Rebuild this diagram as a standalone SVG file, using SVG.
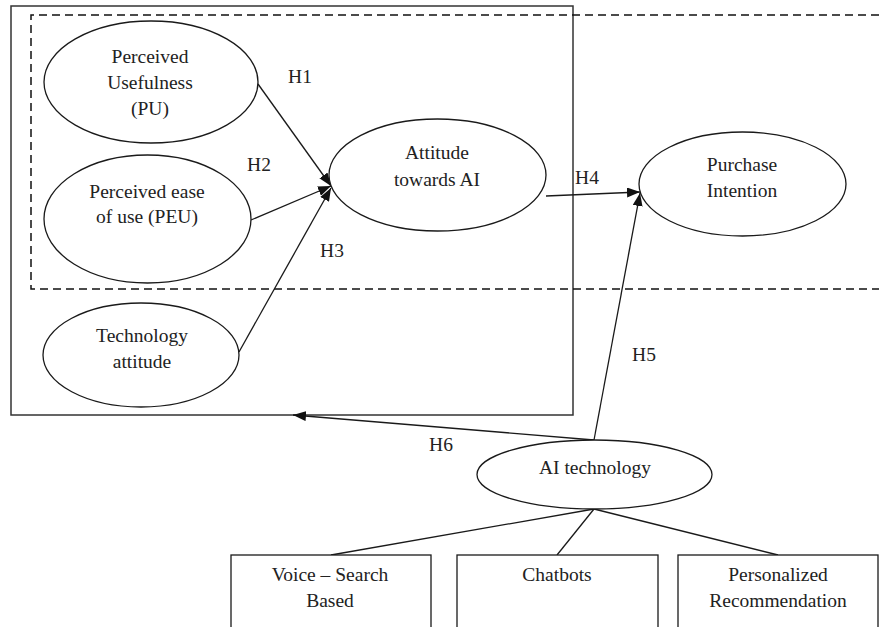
<svg xmlns="http://www.w3.org/2000/svg" width="879" height="627" viewBox="0 0 879 627">
<defs>
<style>
.n{fill:#fff;stroke:#1a1a1a;stroke-width:1.3}
.t{font-family:"Liberation Serif","Times New Roman",serif;font-size:19.5px;fill:#222;text-anchor:middle}
.c{stroke:#1a1a1a;stroke-width:1.3;fill:none}
</style>
<marker id="ah" markerUnits="userSpaceOnUse" markerWidth="14" markerHeight="10" refX="13" refY="5" orient="auto">
<path d="M0,0 L13,5 L0,10 Z" fill="#111"/>
</marker>
</defs>
<rect x="0" y="0" width="879" height="627" fill="#fff"/>
<g id="frame">
<rect x="11" y="6" width="562" height="409" fill="none" stroke="#333" stroke-width="1.5"/>
<path d="M879,15 H31 V289 H879" fill="none" stroke="#111" stroke-width="1.5" stroke-dasharray="8,5"/>
</g>
<g id="connectors">
<line class="c" x1="258" y1="84" x2="331" y2="186" marker-end="url(#ah)"/>
<line class="c" x1="251" y1="220" x2="331" y2="186" marker-end="url(#ah)"/>
<line class="c" x1="239" y1="352" x2="331" y2="188" marker-end="url(#ah)"/>
<line class="c" x1="546" y1="196" x2="640" y2="192" marker-end="url(#ah)"/>
<line class="c" x1="594" y1="440" x2="640" y2="193" marker-end="url(#ah)"/>
<line class="c" x1="594" y1="440" x2="293" y2="415" marker-end="url(#ah)"/>
<line class="c" x1="594" y1="509" x2="331" y2="555"/>
<line class="c" x1="594" y1="509" x2="557" y2="555"/>
<line class="c" x1="594" y1="509" x2="778" y2="555"/>
<text class="t" x="300" y="83">H1</text>
<text class="t" x="259" y="171">H2</text>
<text class="t" x="332" y="257">H3</text>
<text class="t" x="587" y="184">H4</text>
<text class="t" x="644" y="361">H5</text>
<text class="t" x="441" y="451">H6</text>
</g>
<g id="pu">
<ellipse class="n" cx="151" cy="82" rx="107" ry="61"/>
<text class="t" x="150" y="63">Perceived</text>
<text class="t" x="150" y="89">Usefulness</text>
<text class="t" x="150" y="115">(PU)</text>
</g>
<g id="peu">
<ellipse class="n" cx="147.5" cy="219" rx="103.5" ry="64"/>
<text class="t" x="147" y="198">Perceived ease</text>
<text class="t" x="147" y="223">of use (PEU)</text>
</g>
<g id="ta">
<ellipse class="n" cx="141" cy="355" rx="98" ry="52"/>
<text class="t" x="142" y="342">Technology</text>
<text class="t" x="142" y="368">attitude</text>
</g>
<g id="att">
<ellipse class="n" cx="437.5" cy="175" rx="108.5" ry="56"/>
<text class="t" x="437" y="159">Attitude</text>
<text class="t" x="437" y="186">towards AI</text>
</g>
<g id="pi">
<ellipse class="n" cx="742.5" cy="184" rx="103.5" ry="52"/>
<text class="t" x="742" y="171">Purchase</text>
<text class="t" x="742" y="197">Intention</text>
</g>
<g id="ait">
<ellipse class="n" cx="594.5" cy="474.5" rx="117.5" ry="34.5"/>
<text class="t" x="595" y="474">AI technology</text>
</g>
<g id="voice">
<rect class="n" x="231" y="555" width="200" height="100"/>
<text class="t" x="330" y="581">Voice – Search</text>
<text class="t" x="330" y="607">Based</text>
</g>
<g id="chat">
<rect class="n" x="457" y="555" width="201" height="100"/>
<text class="t" x="557" y="581">Chatbots</text>
</g>
<g id="pers">
<rect class="n" x="678" y="555" width="200" height="100"/>
<text class="t" x="778" y="581">Personalized</text>
<text class="t" x="778" y="607">Recommendation</text>
</g>
</svg>
